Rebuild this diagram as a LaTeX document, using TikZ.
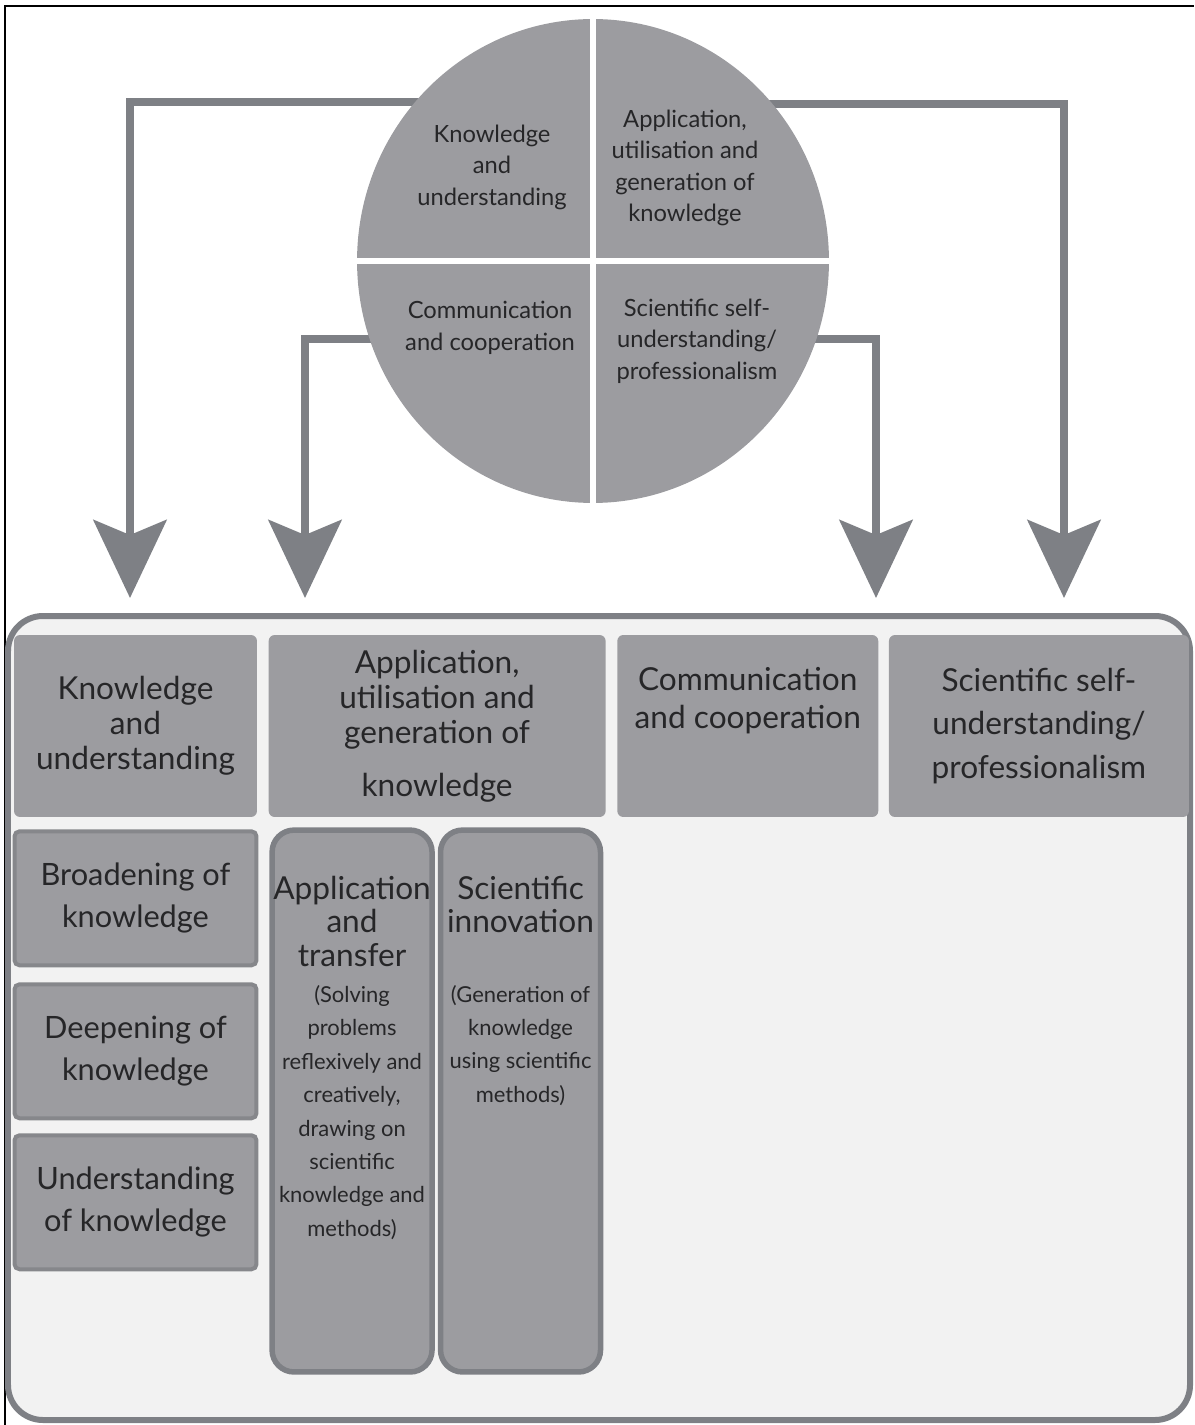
\documentclass[tikz,border=0pt]{standalone}
\usepackage{fontspec}
\setmainfont{Lato}
\usetikzlibrary{arrows.meta,positioning,shapes.geometric}

\definecolor{arrowgray}{HTML}{7E8085}
\definecolor{boxgray}{HTML}{9C9CA0}
\definecolor{edgegray}{HTML}{86878B}
\definecolor{panelgray}{HTML}{F2F2F2}
\definecolor{inkgray}{HTML}{262628}

\begin{document}
\begin{tikzpicture}[x=0.02cm,y=-0.02cm,
  conn/.style={draw=arrowgray,line width=0.16cm,-{Stealth[length=1.56cm,width=1.46cm,inset=0.3cm]}},
  quarter/.style={text=inkgray,align=center,font=\fontsize{13.5}{17.9}\selectfont},
  headbox/.style={fill=boxgray,rounded corners=0.12cm,inner sep=0pt,text=inkgray,align=center,
    minimum height=3.64cm,font=\fontsize{18}{20}\selectfont},
  subbox/.style={fill=boxgray,draw=edgegray,line width=0.08cm,rounded corners=0.1cm,inner sep=0pt,
    text=inkgray,align=center,minimum width=4.84cm,minimum height=2.68cm,font=\fontsize{17.5}{24}\selectfont},
  tallbox/.style={fill=boxgray,draw=arrowgray,line width=0.11cm,rounded corners=0.44cm,inner sep=0pt,
    text=inkgray,minimum width=3.16cm,minimum height=10.84cm}]

\useasboundingbox (0,0) rectangle (1194,1425);
\draw[black,line width=0.04cm] (5,1425) -- (5,6) -- (1194,6);

% panel
\draw[draw=arrowgray,fill=panelgray,line width=0.12cm,rounded corners=0.7cm] (8,616) rectangle (1190,1420);

% head row
\node[headbox,minimum width=4.86cm] (kuhead) at (135.5,726) {Knowledge\\and\\understanding};
\node[headbox,minimum width=6.74cm,right=0.22cm of kuhead] (aughead)
  {Application,\\utilisation and\\generation of\\[0.35cm]knowledge};
\node[headbox,minimum width=5.22cm,right=0.22cm of aughead,font=\fontsize{18}{21.5}\selectfont] (cchead)
  {Communication\\and cooperation\\[0.15cm]\strut};
\node[headbox,minimum width=6.0cm,right=0.2cm of cchead,font=\fontsize{18}{25}\selectfont] (ssphead)
  {Scientific self-\\understanding/\\professionalism};

% sub boxes
\node[subbox,below=0.24cm of kuhead] (broad) {Broadening of\\knowledge};
\node[subbox,below=0.3cm of broad] (deep) {Deepening of\\knowledge};
\node[subbox,below=0.26cm of deep] (under) {Understanding\\of knowledge};

\node[tallbox,below=0.2cm of aughead.south west,anchor=north west,xshift=0.02cm] (transfer)
  {\parbox[c][9.0cm][t]{3.2cm}{\centering\fontsize{18}{19}\selectfont Application\\and\\transfer\par
   \vspace{0.06cm}\fontsize{12.5}{19}\selectfont (Solving\\problems\\reflexively and\\creatively,\\drawing on\\scientific\\knowledge and\\methods)\par}};
\node[tallbox,right=0.06cm of transfer] (innov)
  {\parbox[c][9.0cm][t]{3.2cm}{\centering\fontsize{18}{19}\selectfont Scientific\\innovation\par
   \vspace{0.72cm}\fontsize{12.5}{19}\selectfont (Generation of\\knowledge\\using scientific\\methods)\par}};

% connectors
\coordinate (s1) at (480,102);
\coordinate (s2) at (480,339);
\coordinate (s3) at (700,339);
\coordinate (s4) at (700,104);
\coordinate (t1) at (130,598);
\coordinate (t2) at (305,598);
\coordinate (t3) at (876,598);
\coordinate (t4) at (1064,598);
\draw[conn] (s1) -| (t1);
\draw[conn] (s2) -| (t2);
\draw[conn] (s3) -| (t3);
\draw[conn] (s4) -| (t4);

% wheel
\node[ellipse,fill=boxgray,inner sep=0pt,minimum width=9.44cm,minimum height=9.68cm] (wheel) at (593,261) {};
\draw[white,line width=0.11cm] (wheel.north) -- (wheel.south);
\draw[white,line width=0.11cm] (wheel.west) -- (wheel.east);

\node[quarter] (ku) at (492,167) {Knowledge\\and\\understanding};
\node[quarter] (aug) at (685,168) {Application,\\utilisation and\\generation of\\knowledge};
\node[quarter] (cc) at (490,328) {Communication\\and cooperation};
\node[quarter] (ssp) at (697,341) {Scientific self-\\understanding/\\professionalism};

\end{tikzpicture}
\end{document}
